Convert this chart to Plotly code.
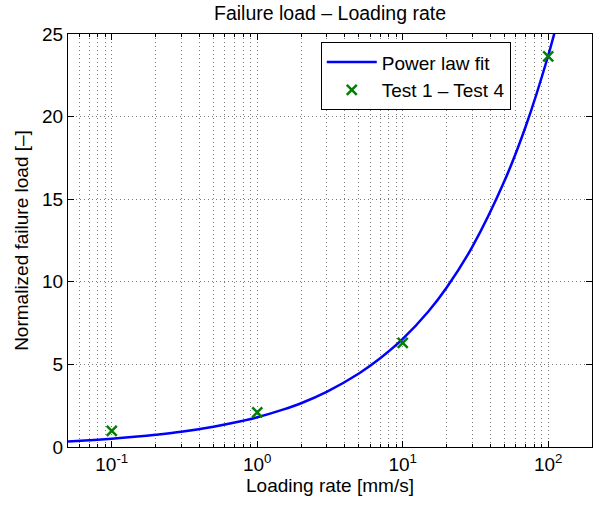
import plotly.graph_objects as go

# Power law fit curve
fit_x = [0.05, 0.07, 0.1, 0.15, 0.2, 0.3, 0.5, 0.7, 1, 1.5, 2, 3, 5, 7, 10, 15, 20, 30, 50, 70, 100, 120]
fit_y = [0.34, 0.41, 0.50, 0.63, 0.74, 0.92, 1.23, 1.48, 1.80, 2.26, 2.65, 3.34, 4.45, 5.37, 6.54, 8.2, 9.64, 12.1, 16.1, 19.4, 23.7, 26.3]

# Test points
test_x = [0.1, 1, 10, 100]
test_y = [0.98, 2.10, 6.31, 23.64]

x_tickvals = [0.1, 1, 10, 100]
x_ticktext = ["10<sup>-1</sup>", "10<sup>0</sup>", "10<sup>1</sup>", "10<sup>2</sup>"]
y_tickvals = [0, 5, 10, 15, 20, 25]

FONT = "Liberation Sans, Arial, Helvetica, sans-serif"
FS = 19

minor_vals = [m * 10 ** e for e in range(-2, 3) for m in range(2, 10)]

fig = go.Figure()
fig.add_trace(go.Scatter(
    x=fit_x, y=fit_y, mode="lines", name="Power law fit",
    line=dict(color="#0000FF", width=2.5, shape="spline"),
))
fig.add_trace(go.Scatter(
    x=test_x, y=test_y, mode="markers", name="Test 1 \u2013 Test 4",
    marker=dict(symbol="x-thin", size=10, line=dict(color="#008000", width=2.5), color="#008000"),
))

grid = dict(gridcolor="#7a7a7a", griddash="1px,3px", gridwidth=1)

fig.update_layout(
    width=600, height=508,
    margin=dict(l=68, r=8, t=34, b=61),
    paper_bgcolor="white", plot_bgcolor="white",
    font=dict(family=FONT, size=FS, color="black"),
    title=dict(text="Failure load \u2013 Loading rate", x=0.5, xref="paper", xanchor="center",
               y=1 - 13 / 508, yref="container", yanchor="middle",
               font=dict(family=FONT, size=19.5, color="black")),
    showlegend=True,
    legend=dict(x=0.845, y=0.98, xanchor="right", yanchor="top",
                bgcolor="white", bordercolor="black", borderwidth=1,
                font=dict(family=FONT, size=FS, color="black"),
                itemwidth=50, tracegroupgap=0),
    xaxis=dict(
        type="log", range=[-1.30103, 2.30103], automargin=False,
        tickmode="array", tickvals=x_tickvals, ticktext=x_ticktext,
        ticks="inside", ticklen=6, tickcolor="black",
        showline=True, linecolor="black", linewidth=1, mirror="allticks",
        showgrid=True, zeroline=False, **grid,
        minor=dict(tickmode="array", tickvals=minor_vals, ticks="inside", ticklen=3,
                   tickcolor="black", showgrid=True, **grid),
        title=dict(text="Loading rate [mm/s]", standoff=4, font=dict(size=FS)),
        tickfont=dict(size=FS),
    ),
    yaxis=dict(
        range=[0, 25], automargin=False,
        tickmode="array", tickvals=y_tickvals,
        ticks="inside", ticklen=6, tickcolor="black",
        showline=True, linecolor="black", linewidth=1, mirror="allticks",
        showgrid=True, zeroline=False, **grid,
        title=dict(text="Normalized failure load [\u2013]", standoff=8, font=dict(size=FS)),
        tickfont=dict(size=FS),
    ),
)

fig.write_html("out.html", config={"displayModeBar": False},
               post_script="document.body.style.margin='0';document.body.style.overflow='hidden';")
